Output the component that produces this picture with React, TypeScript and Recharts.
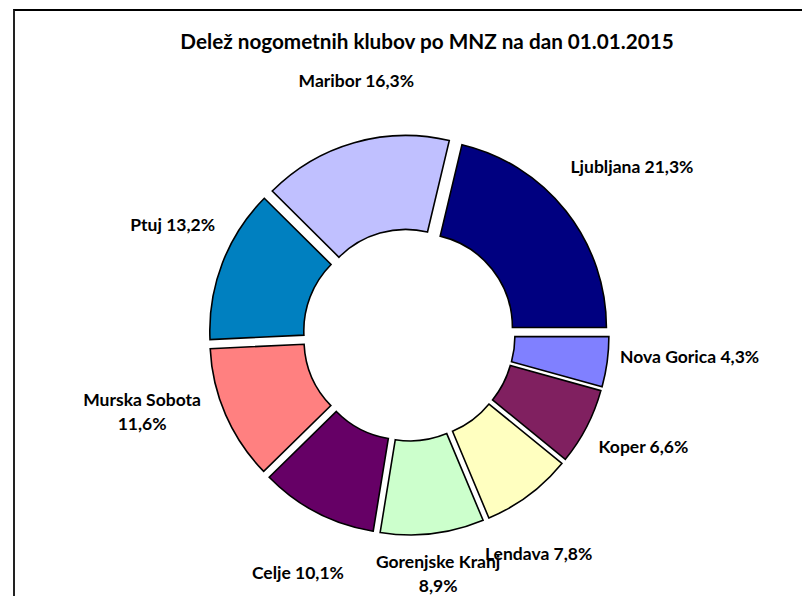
import React from 'react';
import { PieChart, Pie, Cell, Sector } from 'recharts';

// MNZ regions, in the order the slices run (counter-clockwise from 3 o'clock)
const regions = ['Ljubljana', 'Maribor', 'Ptuj', 'Murska Sobota', 'Celje', 'Gorenjske Kranj', 'Lendava', 'Koper', 'Nova Gorica'];
const shares = [21.3, 16.3, 13.2, 11.6, 10.1, 8.9, 7.8, 6.6, 4.3];
const sliceColors = ['#000080', '#C0C0FF', '#0080C0', '#FF8080', '#660066', '#CCFFCC', '#FFFFC0', '#802060', '#8080FF'];

const title = 'Delež nogometnih klubov po MNZ na dan 01.01.2015';

// labels that Excel wrapped onto two lines
const wrappedLabels = ['Murska Sobota', 'Gorenjske Kranj'];

// small hand nudges so the labels sit where Excel put them
const labelNudge: Record<string, [number, number]> = {
  'Ljubljana': [15, -4],
  'Maribor': [20, 0],
  'Ptuj': [11, -15],
  'Murska Sobota': [-24, -30],
  'Celje': [11, 2],
  'Gorenjske Kranj': [-2, -25],
  'Lendava': [-29, 6],
  'Koper': [-1, -10],
  'Nova Gorica': [18, -14],
};

const data = regions.map((name, i) => ({ name, value: shares[i] }));

const RADIAN = Math.PI / 180;
const EXPLODE = 12;
const LABEL_RADIUS = 265;
const FONT = 'Lato, "Open Sans", "DejaVu Sans", sans-serif';

const fmt = (v: number) => v.toFixed(1).replace('.', ',') + '%';

// pulls every slice a bit away from the centre, like Excel's exploded doughnut
const ExplodedSector = (props: any) => {
  const { cx, cy, midAngle, innerRadius, outerRadius, startAngle, endAngle, fill } = props;
  const dx = EXPLODE * Math.cos(-midAngle * RADIAN);
  const dy = EXPLODE * Math.sin(-midAngle * RADIAN);
  return (
    <Sector
      cx={cx + dx}
      cy={cy + dy}
      innerRadius={innerRadius}
      outerRadius={outerRadius}
      startAngle={startAngle}
      endAngle={endAngle}
      fill={fill}
      stroke="#000"
      strokeWidth={1.6}
    />
  );
};

const renderLabel = (props: any) => {
  const { cx, cy, midAngle, name, value } = props;
  const [nx, ny] = labelNudge[name] || [0, 0];
  const x = cx + LABEL_RADIUS * Math.cos(-midAngle * RADIAN) + nx;
  const y = cy + LABEL_RADIUS * Math.sin(-midAngle * RADIAN) + ny;
  const common = {
    textAnchor: 'middle' as const,
    dominantBaseline: 'central' as const,
    fontFamily: FONT,
    fontWeight: 700,
    fontSize: 17.5,
    fill: '#000',
  };
  if (wrappedLabels.includes(name)) {
    return (
      <text x={x} y={y} {...common}>
        <tspan x={x} y={y - 12}>{name}</tspan>
        <tspan x={x} y={y + 12}>{fmt(value)}</tspan>
      </text>
    );
  }
  return (
    <text x={x} y={y} {...common}>
      {`${name} ${fmt(value)}`}
    </text>
  );
};

const App: React.FC = () => {
  return (
    <div style={{ position: 'relative', width: 802, height: 588, fontFamily: FONT }}>
      {/* chart area frame (only top and left edges are in view) */}
      <div
        style={{
          position: 'absolute',
          left: 5,
          top: 1,
          width: 820,
          height: 600,
          borderTop: '2px solid #000',
          borderLeft: '2px solid #222',
        }}
      />
      <div
        style={{
          position: 'absolute',
          left: 0,
          top: 21,
          width: 838,
          textAlign: 'center',
          fontSize: 20.7,
          fontWeight: 700,
          color: '#000',
        }}
      >
        {title}
      </div>
      <div style={{ position: 'absolute', left: 0, top: 0 }}>
        <PieChart width={802} height={588} margin={{ top: 0, right: 0, bottom: 0, left: 0 }}>
          <Pie
            data={data}
            dataKey="value"
            nameKey="name"
            cx={401}
            cy={327}
            innerRadius={94}
            outerRadius={188}
            startAngle={0}
            endAngle={360}
            paddingAngle={0}
            stroke="#000"
            shape={ExplodedSector}
            label={renderLabel}
            labelLine={false}
            isAnimationActive={false}
          >
            {data.map((entry, index) => (
              <Cell key={`cell-${index}`} fill={sliceColors[index]} />
            ))}
          </Pie>
        </PieChart>
      </div>
    </div>
  );
};

export default App;
